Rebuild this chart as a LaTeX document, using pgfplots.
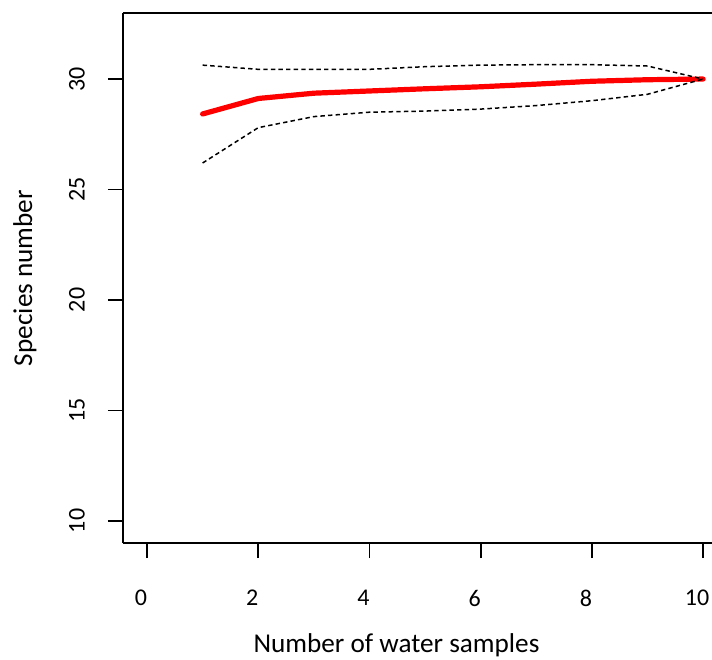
\documentclass[border=0pt]{standalone}
\usepackage{fontspec}
\setmainfont{Carlito}
\usepackage{pgfplots}
\pgfplotsset{compat=1.18}
\begin{document}
\begin{tikzpicture}
\begin{axis}[
    scale only axis,
    width=294.5pt, height=265pt,
    xmin=-0.432, xmax=10.16,
    ymin=9.0, ymax=32.99,
    axis x line*=bottom, axis y line*=left,
    axis line style={line width=0.9pt, -},
    xtick={0,2,...,10}, ytick={10,15,...,30},
    tick align=outside, major tick length=7.5pt,
    tick style={black, line width=0.9pt},
    font=\fontsize{12}{14}\selectfont,
    /pgf/number format/assume math mode=true,
    xticklabel style={anchor=center, yshift=-20pt, xshift=-3pt},
    yticklabel style={rotate=90, anchor=center, yshift=15.5pt},
    xlabel={Number of water samples},
    ylabel={Species number},
    xlabel style={font=\fontsize{13.6}{16}\selectfont, at={(rel axis cs:0.5,0)}, anchor=center, yshift=-51pt, xshift=-10.5pt},
    ylabel style={font=\fontsize{13.6}{16}\selectfont, at={(rel axis cs:0,0.5)}, anchor=center, yshift=49pt},
    clip=false
]
% mean
\addplot[red, line width=2.6pt, line cap=round, line join=round] coordinates {
(1,28.42) (2,29.12) (3,29.36) (4,29.46) (5,29.56) (6,29.65) (7,29.77) (8,29.9) (9,29.97) (10,30.0)
};
% upper bound
\addplot[black, line width=0.75pt, dash pattern=on 2.2pt off 1.6pt] coordinates {
(1,30.63) (2,30.44) (3,30.44) (4,30.44) (5,30.56) (6,30.63) (7,30.65) (8,30.65) (9,30.59) (10,30.0)
};
% lower bound
\addplot[black, line width=0.75pt, dash pattern=on 2.2pt off 1.6pt] coordinates {
(1,26.2) (2,27.8) (3,28.3) (4,28.5) (5,28.55) (6,28.64) (7,28.8) (8,29.02) (9,29.31) (10,30.0)
};
\draw[line width=0.9pt] (rel axis cs:0,1) -- (rel axis cs:1,1);
\end{axis}
\pgfresetboundingbox
\path ([xshift=-61.5pt,yshift=-58pt]current axis.south west) rectangle ([yshift=6.5pt]current axis.north east);
\end{tikzpicture}
\end{document}
